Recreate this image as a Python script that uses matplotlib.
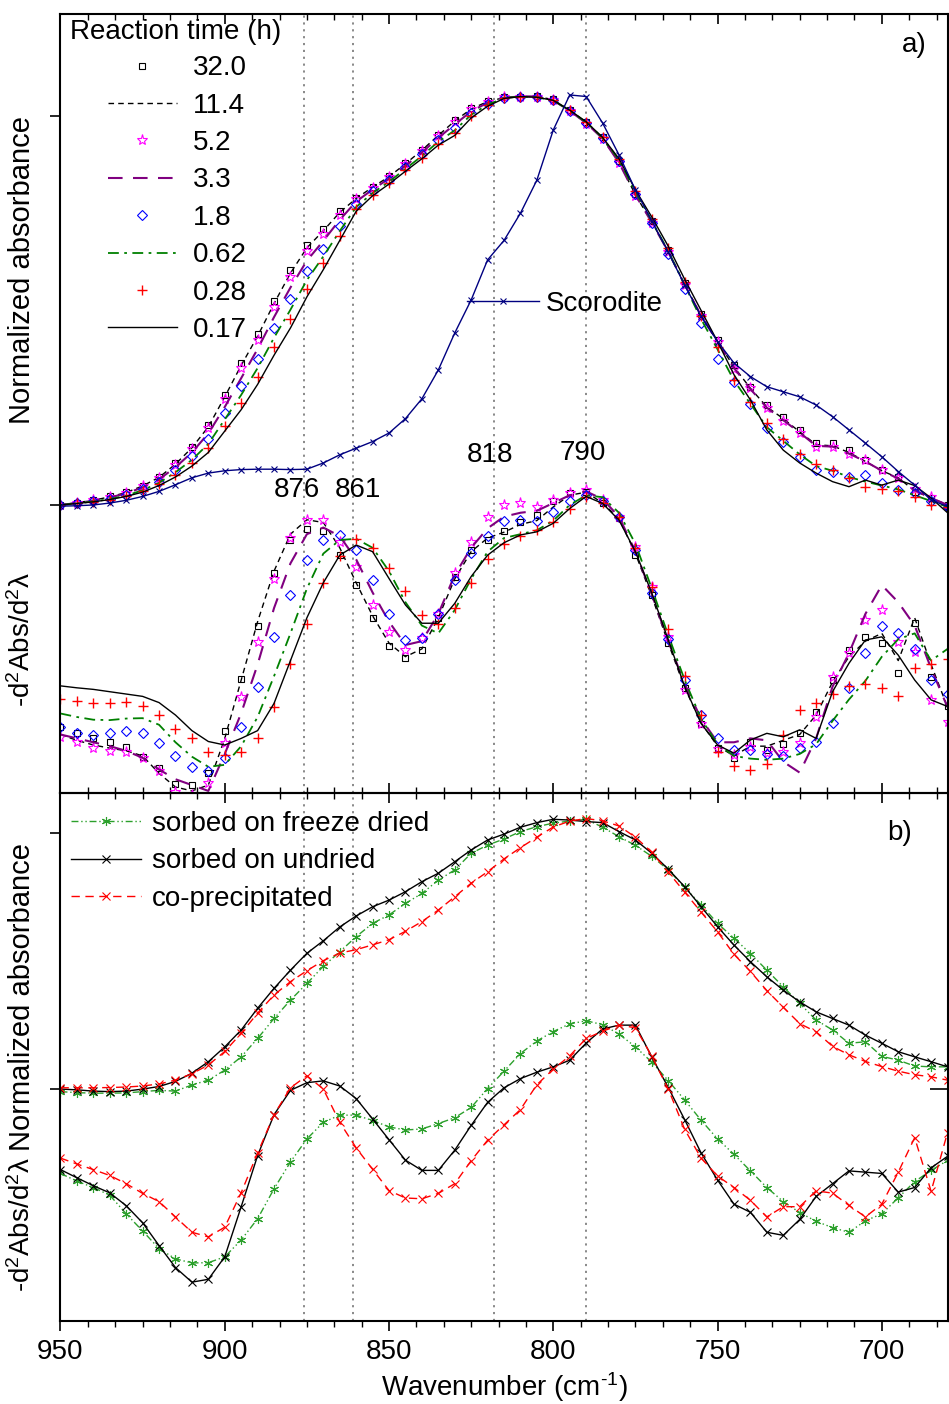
import numpy as np
import matplotlib
matplotlib.use("Agg")
import matplotlib.pyplot as plt
from matplotlib.ticker import MultipleLocator, FixedLocator, NullFormatter

plt.rcParams['font.family'] = ['Liberation Sans', 'DejaVu Sans']
plt.rcParams['mathtext.fontset'] = 'custom'
plt.rcParams['mathtext.rm'] = 'Liberation Sans'
plt.rcParams['mathtext.it'] = 'Liberation Sans:italic'

# wavenumber grid (cm-1), 950 -> 680
wavenumber = np.arange(950, 679, -5)

# ---- panel a: normalized absorbance, by reaction time (h) ----
abs_32_0 = [0.000, 0.006, 0.013, 0.022, 0.033, 0.050, 0.073, 0.108, 0.150, 0.205, 0.283,
            0.365, 0.440, 0.525, 0.603, 0.668, 0.710, 0.755, 0.790, 0.818, 0.845, 0.878,
            0.913, 0.952, 0.990, 1.020, 1.038, 1.048, 1.050, 1.051, 1.043, 1.015, 0.985,
            0.945, 0.885, 0.800, 0.730, 0.655, 0.570, 0.490, 0.425, 0.360, 0.304, 0.257,
            0.227, 0.193, 0.160, 0.159, 0.141, 0.116, 0.090, 0.073, 0.034, 0.018, 0.000]
abs_11_4 = [0.000, 0.006, 0.012, 0.021, 0.032, 0.049, 0.071, 0.105, 0.147, 0.201, 0.278,
            0.359, 0.434, 0.518, 0.596, 0.661, 0.705, 0.752, 0.788, 0.817, 0.844, 0.877,
            0.912, 0.950, 0.987, 1.018, 1.037, 1.047, 1.050, 1.050, 1.042, 1.013, 0.982,
            0.942, 0.882, 0.797, 0.727, 0.652, 0.567, 0.487, 0.420, 0.355, 0.300, 0.252,
            0.222, 0.188, 0.155, 0.152, 0.135, 0.112, 0.088, 0.070, 0.036, 0.018, 0.000]
abs_5_2 = [0.000, 0.006, 0.012, 0.021, 0.032, 0.048, 0.070, 0.104, 0.144, 0.197, 0.272,
           0.351, 0.424, 0.508, 0.585, 0.652, 0.697, 0.746, 0.786, 0.815, 0.843, 0.876,
           0.910, 0.949, 0.985, 1.017, 1.036, 1.048, 1.050, 1.050, 1.040, 1.012, 0.980,
           0.940, 0.878, 0.795, 0.725, 0.650, 0.565, 0.485, 0.418, 0.350, 0.300, 0.250,
           0.215, 0.185, 0.150, 0.148, 0.130, 0.115, 0.090, 0.070, 0.040, 0.020, 0.000]
abs_3_3 = [0.000, 0.005, 0.011, 0.019, 0.030, 0.045, 0.066, 0.097, 0.135, 0.184, 0.252,
           0.326, 0.401, 0.483, 0.559, 0.628, 0.679, 0.733, 0.780, 0.811, 0.839, 0.872,
           0.906, 0.944, 0.978, 1.012, 1.034, 1.047, 1.050, 1.050, 1.040, 1.013, 0.982,
           0.942, 0.880, 0.797, 0.726, 0.651, 0.566, 0.486, 0.420, 0.352, 0.298, 0.250,
           0.218, 0.186, 0.152, 0.150, 0.132, 0.112, 0.088, 0.068, 0.038, 0.018, 0.000]
abs_1_8 = [0.000, 0.004, 0.009, 0.016, 0.026, 0.040, 0.060, 0.090, 0.125, 0.170, 0.237,
           0.305, 0.375, 0.455, 0.529, 0.602, 0.658, 0.718, 0.773, 0.807, 0.835, 0.868,
           0.902, 0.939, 0.970, 1.008, 1.032, 1.046, 1.050, 1.049, 1.040, 1.013, 0.983,
           0.943, 0.885, 0.800, 0.725, 0.645, 0.555, 0.468, 0.375, 0.315, 0.260, 0.198,
           0.163, 0.124, 0.090, 0.086, 0.073, 0.077, 0.056, 0.039, 0.030, 0.009, -0.004]
abs_0_62 = [0.000, 0.004, 0.009, 0.015, 0.024, 0.038, 0.057, 0.084, 0.116, 0.157, 0.220,
            0.283, 0.352, 0.430, 0.502, 0.578, 0.639, 0.704, 0.766, 0.802, 0.831, 0.864,
            0.897, 0.934, 0.963, 1.003, 1.029, 1.046, 1.050, 1.048, 1.040, 1.014, 0.984,
            0.944, 0.887, 0.805, 0.730, 0.652, 0.565, 0.478, 0.400, 0.320, 0.260, 0.200,
            0.165, 0.130, 0.100, 0.088, 0.072, 0.060, 0.050, 0.040, 0.025, 0.010, -0.005]
abs_0_28 = [0.000, 0.004, 0.008, 0.014, 0.023, 0.036, 0.053, 0.077, 0.108, 0.146, 0.204,
            0.263, 0.330, 0.406, 0.477, 0.555, 0.621, 0.691, 0.760, 0.798, 0.828, 0.861,
            0.893, 0.929, 0.956, 0.999, 1.027, 1.045, 1.050, 1.048, 1.040, 1.015, 0.985,
            0.945, 0.889, 0.808, 0.735, 0.660, 0.572, 0.485, 0.405, 0.320, 0.265, 0.210,
            0.170, 0.130, 0.105, 0.090, 0.070, 0.045, 0.040, 0.035, 0.020, 0.000, -0.005]
abs_0_17 = [0.000, 0.004, 0.008, 0.014, 0.022, 0.033, 0.050, 0.072, 0.100, 0.135, 0.190,
            0.245, 0.310, 0.385, 0.455, 0.535, 0.605, 0.680, 0.755, 0.795, 0.825, 0.858,
            0.890, 0.925, 0.950, 0.995, 1.025, 1.045, 1.050, 1.048, 1.040, 1.015, 0.985,
            0.945, 0.890, 0.810, 0.740, 0.665, 0.580, 0.500, 0.420, 0.335, 0.270, 0.193,
            0.141, 0.108, 0.082, 0.060, 0.047, 0.064, 0.051, 0.064, 0.050, 0.018, -0.020]
abs_scorodite = [-0.003, -0.002, 0.000, 0.005, 0.012, 0.022, 0.035, 0.052, 0.070, 0.082, 0.088,
                 0.091, 0.092, 0.092, 0.091, 0.092, 0.108, 0.129, 0.146, 0.163, 0.185, 0.222,
                 0.273, 0.347, 0.442, 0.527, 0.630, 0.680, 0.750, 0.835, 0.964, 1.054, 1.050,
                 0.982, 0.900, 0.810, 0.730, 0.650, 0.565, 0.485, 0.420, 0.365, 0.330, 0.304,
                 0.291, 0.278, 0.257, 0.227, 0.193, 0.159, 0.124, 0.086, 0.051, 0.013, -0.004]

# ---- panel a: -second derivative (offset below the spectra) ----
d2_32_0 = [-0.570, -0.585, -0.598, -0.608, -0.623, -0.649, -0.675, -0.716, -0.720, -0.690, -0.580,
           -0.447, -0.310, -0.175, -0.090, -0.063, -0.066, -0.128, -0.206, -0.290, -0.362, -0.394,
           -0.372, -0.290, -0.185, -0.117, -0.090, -0.066, -0.045, -0.026, 0.009, 0.030, 0.034,
           0.004, -0.034, -0.128, -0.231, -0.356, -0.471, -0.562, -0.624, -0.650, -0.608, -0.630,
           -0.614, -0.587, -0.531, -0.450, -0.373, -0.339, -0.356, -0.433, -0.304, -0.441, -0.518]
d2_11_4 = [-0.590, -0.605, -0.617, -0.625, -0.632, -0.645, -0.690, -0.725, -0.735, -0.720, -0.600,
           -0.450, -0.300, -0.170, -0.075, -0.038, -0.045, -0.110, -0.200, -0.285, -0.355, -0.390,
           -0.370, -0.290, -0.190, -0.120, -0.085, -0.070, -0.050, -0.040, -0.005, 0.025, 0.033,
           0.005, -0.035, -0.125, -0.235, -0.355, -0.470, -0.560, -0.620, -0.645, -0.620, -0.620,
           -0.605, -0.590, -0.540, -0.455, -0.390, -0.350, -0.330, -0.400, -0.290, -0.410, -0.520]
d2_5_2 = [-0.596, -0.609, -0.625, -0.632, -0.636, -0.651, -0.685, -0.737, -0.745, -0.715, -0.613,
          -0.493, -0.351, -0.189, -0.086, -0.039, -0.039, -0.094, -0.159, -0.257, -0.326, -0.373,
          -0.343, -0.279, -0.176, -0.094, -0.030, 0.000, 0.004, -0.004, 0.013, 0.031, 0.039,
          0.013, -0.030, -0.107, -0.210, -0.339, -0.476, -0.562, -0.626, -0.643, -0.621, -0.638,
          -0.634, -0.613, -0.544, -0.441, -0.381, -0.296, -0.270, -0.351, -0.377, -0.501, -0.557]
d2_3_3 = [-0.590, -0.600, -0.610, -0.620, -0.632, -0.650, -0.680, -0.705, -0.720, -0.735, -0.640,
          -0.535, -0.410, -0.265, -0.150, -0.075, -0.058, -0.080, -0.140, -0.225, -0.300, -0.360,
          -0.350, -0.280, -0.180, -0.110, -0.060, -0.030, -0.020, -0.015, 0.005, 0.025, 0.035,
          0.015, -0.030, -0.120, -0.230, -0.350, -0.460, -0.550, -0.610, -0.610, -0.600, -0.605,
          -0.660, -0.688, -0.600, -0.467, -0.381, -0.280, -0.206, -0.250, -0.310, -0.420, -0.520]
d2_1_8 = [-0.570, -0.587, -0.591, -0.587, -0.580, -0.587, -0.613, -0.645, -0.673, -0.685, -0.651,
          -0.570, -0.467, -0.339, -0.231, -0.141, -0.090, -0.077, -0.116, -0.193, -0.279, -0.347,
          -0.343, -0.279, -0.193, -0.124, -0.081, -0.040, -0.039, -0.040, -0.017, 0.009, 0.026,
          0.010, -0.030, -0.115, -0.225, -0.345, -0.450, -0.540, -0.600, -0.630, -0.630, -0.640,
          -0.645, -0.625, -0.610, -0.560, -0.470, -0.380, -0.310, -0.330, -0.370, -0.450, -0.485]
d2_0_62 = [-0.536, -0.545, -0.552, -0.553, -0.549, -0.548, -0.565, -0.610, -0.647, -0.673, -0.668,
           -0.620, -0.545, -0.440, -0.330, -0.215, -0.125, -0.090, -0.087, -0.110, -0.170, -0.250,
           -0.310, -0.330, -0.270, -0.190, -0.120, -0.085, -0.075, -0.065, -0.040, 0.000, 0.025,
           0.020, -0.020, -0.100, -0.215, -0.335, -0.450, -0.550, -0.615, -0.645, -0.652, -0.655,
           -0.652, -0.640, -0.615, -0.555, -0.500, -0.452, -0.390, -0.345, -0.330, -0.400, -0.370]
d2_0_28 = [-0.500, -0.504, -0.510, -0.510, -0.507, -0.518, -0.540, -0.575, -0.600, -0.636, -0.642,
           -0.636, -0.600, -0.520, -0.410, -0.305, -0.200, -0.130, -0.087, -0.110, -0.162, -0.220,
           -0.283, -0.305, -0.266, -0.200, -0.140, -0.100, -0.080, -0.065, -0.045, -0.010, 0.020,
           0.005, -0.030, -0.110, -0.210, -0.320, -0.440, -0.540, -0.636, -0.672, -0.682, -0.665,
           -0.590, -0.527, -0.510, -0.485, -0.465, -0.460, -0.470, -0.490, -0.420, -0.410, -0.395]
d2_0_17 = [-0.465, -0.470, -0.474, -0.480, -0.486, -0.492, -0.508, -0.540, -0.580, -0.608, -0.617,
           -0.600, -0.580, -0.510, -0.400, -0.290, -0.200, -0.129, -0.103, -0.120, -0.189, -0.257,
           -0.304, -0.304, -0.253, -0.184, -0.129, -0.097, -0.077, -0.069, -0.047, -0.009, 0.022,
           0.004, -0.039, -0.120, -0.227, -0.347, -0.467, -0.562, -0.617, -0.638, -0.604, -0.587,
           -0.596, -0.578, -0.600, -0.480, -0.407, -0.347, -0.339, -0.386, -0.450, -0.501, -0.518]

# ---- panel b: sorption vs co-precipitation ----
b_abs_freeze = [-0.010, -0.014, -0.016, -0.016, -0.015, -0.010, -0.005, -0.008, 0.016, 0.035, 0.074,
                0.126, 0.198, 0.276, 0.348, 0.413, 0.480, 0.537, 0.596, 0.648, 0.681, 0.726,
                0.765, 0.817, 0.857, 0.922, 0.954, 0.978, 1.007, 1.026, 1.040, 1.048, 1.055,
                1.024, 0.987, 0.953, 0.910, 0.857, 0.789, 0.720, 0.648, 0.590, 0.530, 0.465,
                0.400, 0.335, 0.270, 0.231, 0.179, 0.185, 0.128, 0.113, 0.090, 0.087, 0.087]
b_abs_undried = [0.000, -0.003, -0.008, -0.010, -0.008, 0.000, 0.010, 0.030, 0.062, 0.107, 0.165,
                 0.231, 0.316, 0.394, 0.465, 0.531, 0.580, 0.634, 0.677, 0.713, 0.739, 0.772,
                 0.811, 0.844, 0.889, 0.935, 0.974, 0.997, 1.024, 1.042, 1.055, 1.052, 1.046,
                 1.042, 1.007, 0.974, 0.922, 0.860, 0.791, 0.713, 0.635, 0.563, 0.498, 0.439,
                 0.387, 0.341, 0.302, 0.276, 0.250, 0.211, 0.179, 0.146, 0.126, 0.107, 0.087]
b_abs_coprec = [0.005, 0.005, 0.005, 0.006, 0.008, 0.012, 0.020, 0.035, 0.060, 0.094, 0.147,
                0.218, 0.297, 0.368, 0.420, 0.463, 0.502, 0.532, 0.545, 0.564, 0.584, 0.617,
                0.655, 0.700, 0.752, 0.805, 0.850, 0.900, 0.944, 0.985, 1.025, 1.048, 1.058,
                1.049, 1.029, 0.985, 0.926, 0.848, 0.770, 0.692, 0.615, 0.527, 0.460, 0.385,
                0.320, 0.256, 0.224, 0.167, 0.134, 0.108, 0.088, 0.070, 0.056, 0.048, 0.035]
b_d2_freeze = [-0.330, -0.360, -0.385, -0.415, -0.488, -0.555, -0.624, -0.664, -0.680, -0.679, -0.656,
               -0.590, -0.507, -0.390, -0.285, -0.195, -0.130, -0.102, -0.102, -0.123, -0.148, -0.160,
               -0.156, -0.135, -0.112, -0.072, 0.002, 0.070, 0.139, 0.188, 0.225, 0.255, 0.267,
               0.252, 0.215, 0.165, 0.105, 0.033, -0.043, -0.122, -0.195, -0.255, -0.320, -0.385,
               -0.440, -0.483, -0.517, -0.542, -0.560, -0.515, -0.488, -0.425, -0.362, -0.318, -0.279]
b_d2_undried = [-0.315, -0.347, -0.378, -0.406, -0.456, -0.523, -0.612, -0.698, -0.755, -0.744, -0.656,
                -0.460, -0.260, -0.100, -0.005, 0.025, 0.032, 0.012, -0.037, -0.117, -0.198, -0.278,
                -0.318, -0.318, -0.239, -0.142, -0.052, 0.005, 0.041, 0.066, 0.087, 0.113, 0.180,
                0.235, 0.250, 0.250, 0.125, 0.006, -0.120, -0.250, -0.356, -0.450, -0.482, -0.560,
                -0.572, -0.510, -0.420, -0.370, -0.320, -0.325, -0.330, -0.403, -0.385, -0.308, -0.263]
b_d2_coprec = [-0.270, -0.293, -0.315, -0.338, -0.370, -0.408, -0.440, -0.500, -0.560, -0.578, -0.540,
               -0.405, -0.250, -0.100, 0.005, 0.052, 0.000, -0.130, -0.230, -0.314, -0.397, -0.426,
               -0.429, -0.408, -0.370, -0.280, -0.200, -0.140, -0.080, 0.017, 0.078, 0.130, 0.198,
               0.226, 0.250, 0.240, 0.128, 0.000, -0.158, -0.270, -0.340, -0.385, -0.435, -0.500,
               -0.460, -0.460, -0.398, -0.407, -0.455, -0.500, -0.450, -0.325, -0.190, -0.400, -0.170]

peak_positions = [876, 861, 818, 790]
time_labels = ["32.0", "11.4", "5.2", "3.3", "1.8", "0.62", "0.28", "0.17"]
sample_labels = ["sorbed on freeze dried", "sorbed on undried", "co-precipitated"]

# styles for the 8 reaction times (same order as time_labels)
styles = [
    dict(color='black', ls='none', marker='s', ms=4.8, mfc='none', mew=0.8),
    dict(color='black', ls=(0, (4, 3)), lw=1.0),
    dict(color='#ff00ff', ls='none', marker='*', ms=8, mfc='none', mew=0.8),
    dict(color='#800080', ls=(0, (7, 5)), lw=1.5),
    dict(color='#0000ff', ls='none', marker='D', ms=5.2, mfc='none', mew=0.8),
    dict(color='#008000', ls=(0, (6, 3, 1.5, 3)), lw=1.3),
    dict(color='#ff0000', ls='none', marker='+', ms=7, mew=1.0),
    dict(color='black', ls='-', lw=1.0),
]
abs_series = [abs_32_0, abs_11_4, abs_5_2, abs_3_3, abs_1_8, abs_0_62, abs_0_28, abs_0_17]
d2_series = [d2_32_0, d2_11_4, d2_5_2, d2_3_3, d2_1_8, d2_0_62, d2_0_28, d2_0_17]

fig = plt.figure(figsize=(9.49, 14.04), dpi=100)
axA = fig.add_axes([0.06375, 0.4354, 0.9347, 0.5546])
axB = fig.add_axes([0.06375, 0.0593, 0.9347, 0.3761])

for ax in (axA, axB):
    for v in peak_positions:
        ax.axvline(v, color='#808080', ls=(0, (1.2, 2.6)), lw=1.3, zorder=0)
    ax.set_xlim(950, 680)
    for sp in ax.spines.values():
        sp.set_linewidth(1.5)
    ax.xaxis.set_major_locator(MultipleLocator(50))
    ax.xaxis.set_minor_locator(MultipleLocator(50 / 6))
    ax.set_yticks([0, 1])
    ax.yaxis.set_major_formatter(NullFormatter())
    ax.tick_params(axis='y', which='major', direction='out', length=7, width=1.2)

# ---------- panel a ----------
handles = []
for lab, s, ya, yd in zip(time_labels, styles, abs_series, d2_series):
    h, = axA.plot(wavenumber, ya, label=lab, **s)
    axA.plot(wavenumber, yd, **s)
    handles.append(h)
scor, = axA.plot(wavenumber, abs_scorodite, color='#000080', lw=1.0, marker='x', ms=4.5,
                 mew=0.8, label='Scorodite')

axA.set_ylim(-0.7396, 1.262)
axA.tick_params(axis='x', which='both', direction='in', top=True, bottom=True, labelbottom=False)
axA.tick_params(axis='x', which='major', length=7, width=1.2)
axA.tick_params(axis='x', which='minor', length=4, width=1.0)

axA.text(0.0107, 0.9769, "Reaction time (h)", transform=axA.transAxes, fontsize=20,
         ha='left', va='center')
leg1 = axA.legend(handles=handles, loc='upper left', bbox_to_anchor=(0.053, 0.947),
                  borderaxespad=0, borderpad=0, frameon=False, fontsize=20,
                  handlelength=2.5, handletextpad=0.58, labelspacing=0.41, numpoints=1)
axA.add_artist(leg1)
axA.legend(handles=[scor], loc='center left', bbox_to_anchor=(0.458, 0.628), frameon=False,
           borderaxespad=0, borderpad=0, fontsize=20, handlelength=2.6, handletextpad=0.25,
           numpoints=1)

for v, (dx, yy) in zip(peak_positions, [(2.2, 0.039), (-1.4, 0.039), (1.3, 0.129), (1.1, 0.134)]):
    axA.text(v + dx, yy, str(v), fontsize=20, ha='center', va='center')
axA.text(0.963, 0.960, "a)", transform=axA.transAxes, fontsize=20, ha='center', va='center')

# ---------- panel b ----------
b_styles = [
    dict(color='#2ca02c', ls=(0, (5, 2, 1, 2, 1, 2)), lw=1.0, marker=(6, 2, 0), ms=6.5, mew=0.8),
    dict(color='black', ls='-', lw=1.0, marker='x', ms=5.5, mew=0.8),
    dict(color='#ff0000', ls=(0, (6, 4)), lw=1.0, marker='x', ms=5.5, mew=0.8),
]
b_handles = []
for lab, s, ya, yd in zip(sample_labels, b_styles,
                          [b_abs_freeze, b_abs_undried, b_abs_coprec],
                          [b_d2_freeze, b_d2_undried, b_d2_coprec]):
    h, = axB.plot(wavenumber, ya, label=lab, **s)
    axB.plot(wavenumber, yd, **s)
    b_handles.append(h)

axB.set_ylim(-0.906, 1.159)
axB.tick_params(axis='x', which='both', direction='out', top=False, labelsize=20, pad=6)
axB.tick_params(axis='x', which='major', length=7, width=1.2)
axB.tick_params(axis='x', which='minor', length=4, width=1.0)
topB = axB.secondary_xaxis('top')
topB.xaxis.set_major_locator(MultipleLocator(50))
topB.xaxis.set_minor_locator(MultipleLocator(50 / 6))
topB.tick_params(axis='x', which='both', direction='in', labeltop=False)
topB.tick_params(axis='x', which='major', length=7, width=1.2)
topB.tick_params(axis='x', which='minor', length=4, width=1.0)
rightB = axB.secondary_yaxis('right')
rightB.yaxis.set_major_locator(FixedLocator([0]))
rightB.yaxis.set_major_formatter(NullFormatter())
rightB.tick_params(axis='y', direction='in', length=13, width=1.2)

axB.legend(handles=b_handles, loc='upper left', bbox_to_anchor=(0.012, 0.9655), frameon=False,
           borderaxespad=0, borderpad=0, fontsize=20, handlelength=2.5, handletextpad=0.4,
           labelspacing=0.41, numpoints=1)
axB.text(0.946, 0.924, "b)", transform=axB.transAxes, fontsize=20, ha='center', va='center')
axB.set_xlabel(r"Wavenumber (cm$^{\text{-}1}$)", fontsize=20, labelpad=4)

# y-axis labels
ylab = r"-d$^2$Abs/d$^2$λ"
fig.text(0.0232, 1 - 270 / 1404, "Normalized absorbance", rotation=90, fontsize=21,
         ha='center', va='center')
fig.text(0.0232, 1 - 640 / 1404, ylab, rotation=90, fontsize=20, ha='center', va='center')
fig.text(0.0232, 1 - 997 / 1404, "Normalized absorbance", rotation=90, fontsize=21,
         ha='center', va='center')
fig.text(0.0232, 1 - 1225 / 1404, ylab, rotation=90, fontsize=20, ha='center', va='center')

fig.savefig("out.png", dpi=100)
